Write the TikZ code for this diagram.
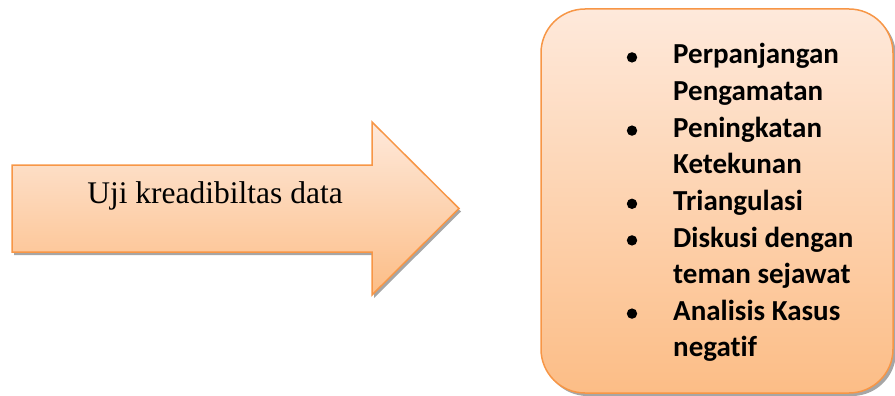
\documentclass[tikz,border=0pt]{standalone}
\usepackage{fontspec}
\setmainfont{Liberation Serif}
\newfontfamily\calib[Ligatures=NoCommon]{Carlito}
\tikzset{
  shapebox/.style={draw=orangeedge, line width=1.5pt, top color=orangetop, bottom color=orangebot},
  shadowfill/.style={fill=shadowgrey, draw=none},
  itemtext/.style={anchor=base west, inner sep=0pt, font=\calib\bfseries\fontsize{29}{36}\selectfont},
  bulletdot/.style={circle, fill=black, inner sep=0pt, minimum size=10.4pt}
}
\definecolor{orangeedge}{HTML}{F79646}
\definecolor{orangetop}{HTML}{FEE9DB}
\definecolor{orangebot}{HTML}{FCBD86}
\definecolor{shadowgrey}{HTML}{A6A6A6}
\begin{document}
\begin{tikzpicture}[x=1pt, y=-1pt]
\useasboundingbox (0,0) rectangle (895,396);
% arrow shadow
\fill[shadowfill] (14,168) -- (374,168) -- (374,125) -- (461,211.5) -- (374,298) -- (374,255) -- (14,255) -- cycle;
% arrow
\path[shapebox] (12,165) -- (372,165) -- (372,122) -- (459,208.5) -- (372,295) -- (372,252) -- (12,252) -- cycle;
\node[anchor=base, inner sep=0pt, font=\fontsize{31.5}{36}\selectfont] (arrowtext) at (215,203) {Uji kreadibiltas data};
% box shadow
\fill[shadowfill, rounded corners=44pt] (543.5,12) rectangle (896,396);
% box
\path[shapebox, rounded corners=44pt] (541,9) rectangle (893,393);
% items
\node[itemtext] (l1) at (673,64) {Perpanjangan};
\node[itemtext] (l2) at (673,100.6) {Pengamatan};
\node[itemtext] (l3) at (673,137.2) {Peningkatan};
\node[itemtext] (l4) at (673,173.8) {Ketekunan};
\node[itemtext] (l5) at (673,210.4) {Triangulasi};
\node[itemtext] (l6) at (673,247) {Diskusi dengan};
\node[itemtext] (l7) at (673,283.6) {teman sejawat};
\node[itemtext] (l8) at (673,320.2) {Analisis Kasus};
\node[itemtext] (l9) at (673,356.8) {negatif};
\node[bulletdot] (b1) at (632,57.4) {};
\node[bulletdot] (b2) at (632,130.6) {};
\node[bulletdot] (b3) at (632,203.8) {};
\node[bulletdot] (b4) at (632,240.4) {};
\node[bulletdot] (b5) at (632,313.6) {};
\end{tikzpicture}
\end{document}
